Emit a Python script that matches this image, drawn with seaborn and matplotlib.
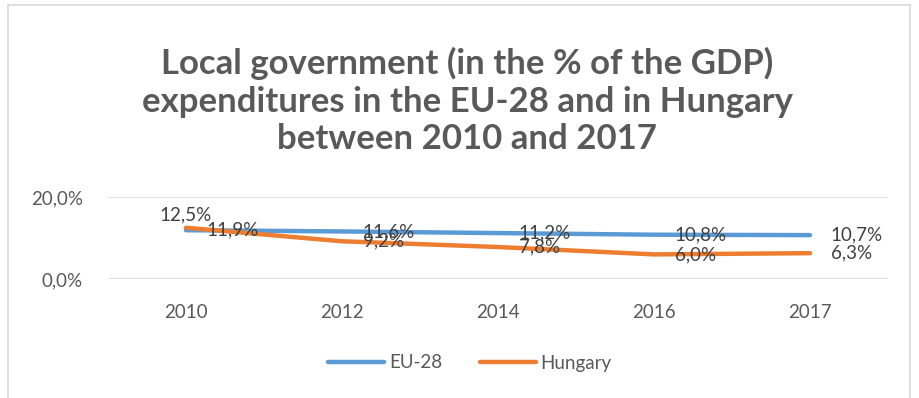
import matplotlib
matplotlib.use("Agg")
import matplotlib.pyplot as plt
import seaborn as sns
import pandas as pd
from matplotlib.lines import Line2D

years = ["2010", "2012", "2014", "2016", "2017"]
eu28 = [11.9, 11.6, 11.2, 10.8, 10.7]
hungary = [12.5, 9.2, 7.8, 6.0, 6.3]
series_names = ["EU-28", "Hungary"]
colors = ["#5B9BD5", "#ED7D31"]
y_ticks = [0, 20]

sns.set_theme(style="white")
plt.rcParams["font.family"] = ["Lato", "DejaVu Sans"]

rows = []
for name, vals in zip(series_names, [eu28, hungary]):
    for i, (yr, v) in enumerate(zip(years, vals)):
        rows.append({"pos": i, "year": yr, "value": v, "series": name})
df = pd.DataFrame(rows)

W, H = 919, 398
fig = plt.figure(figsize=(W / 100, H / 100), dpi=100)
ax = fig.add_axes([108 / W, 1 - 279 / H, (888 - 108) / W, (279 - 197) / H])

sns.lineplot(data=df, x="pos", y="value", hue="series", palette=colors,
             linewidth=3.2, ax=ax, legend=True, sort=False)

ax.set_xlim(-0.5, len(years) - 0.5)
ax.set_ylim(0, 20)
ax.set_yticks(y_ticks)
ax.set_yticklabels([f"{t:.1f}".replace(".", ",") + "%" for t in y_ticks])
ax.set_xticks(range(len(years)))
ax.set_xticklabels(years)
ax.tick_params(axis="x", length=0, labelsize=13.5, labelcolor="#595959", pad=18)
ax.tick_params(axis="y", length=0, labelsize=13.5, labelcolor="#595959", pad=18)
ax.set_xlabel("")
ax.set_ylabel("")
for s in ax.spines.values():
    s.set_visible(False)
ax.grid(axis="y", color="#D9D9D9", linewidth=1.2)
ax.set_axisbelow(True)

# data labels
for name, vals in zip(series_names, [eu28, hungary]):
    for i, v in enumerate(vals):
        txt = f"{v:.1f}".replace(".", ",") + "%"
        if name == "Hungary" and i == 0:
            ax.annotate(txt, (i, v), xytext=(0, 3), textcoords="offset points",
                        ha="center", va="bottom", fontsize=13.5, color="#404040")
        else:
            ax.annotate(txt, (i, v), xytext=(15, 0), textcoords="offset points",
                        ha="left", va="center", fontsize=13.5, color="#404040")

ax.legend_.remove()
handles, labels = ax.get_legend_handles_labels()
fig.legend(handles, labels, loc="center", bbox_to_anchor=(470 / W, 1 - 363 / H),
           ncol=2, frameon=False, fontsize=13.5, labelcolor="#595959",
           handlelength=3.0, columnspacing=2.0, handletextpad=0.25)

fig.text(467 / W, 1 - 101 / H,
         "Local government (in the % of the GDP)\nexpenditures in the EU-28 and in Hungary\nbetween 2010 and 2017",
         ha="center", va="center", fontsize=25, fontweight="bold", color="#595959",
         linespacing=1.2)

# chart area border (left, top, right)
bx0, bx1, by0 = 8 / W, 910 / W, 1 - 5 / H
for xs, ys in [([bx0, bx0], [0, by0]), ([bx0, bx1], [by0, by0]), ([bx1, bx1], [by0, 0])]:
    fig.lines.append(Line2D(xs, ys, transform=fig.transFigure, color="#D9D9D9", linewidth=1.2))

fig.savefig("out.png", dpi=100, facecolor="white")
